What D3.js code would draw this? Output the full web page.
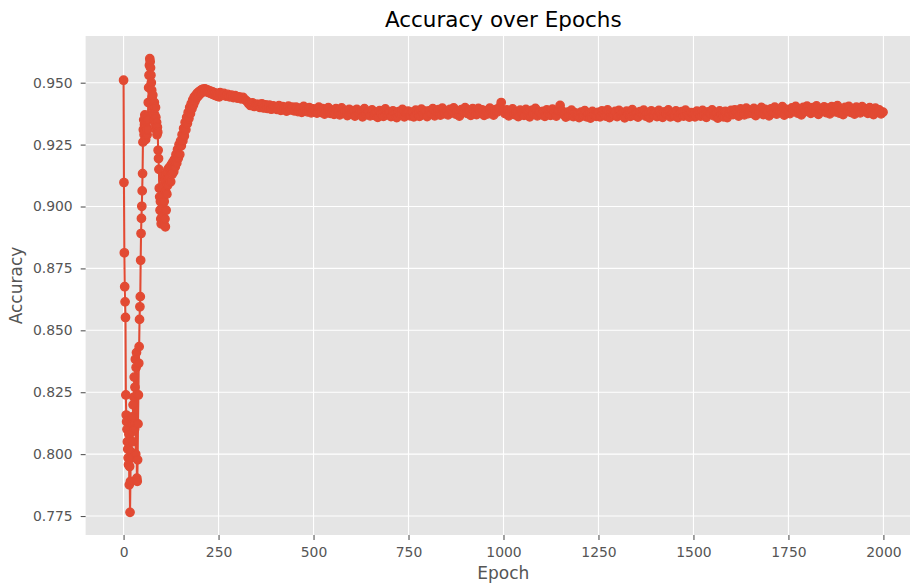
<!DOCTYPE html>
<html><head><meta charset="utf-8">
<script src="https://cdn.jsdelivr.net/npm/d3@7"></script>
<style>body{margin:0;background:#fff}svg{display:block}</style>
</head><body><svg id="c" width="910" height="583"></svg>
<script>
// epochs 0..119 (every epoch)
const accEarly = [
.9510,.9097,.8813,.8676,.8615,.8552,.8239,.8158,.8131,.8100,
.8050,.8020,.7985,.7957,.8080,.7876,.7950,.7765,.7890,.8010,
.8126,.7985,.8090,.8150,.8050,.8199,.8120,.8230,.8311,.8100,
.8270,.8383,.8000,.8350,.8410,.7903,.7890,.7977,.8122,.8239,
.8367,.8434,.8544,.8595,.8636,.8783,.8891,.8952,.9001,.9063,
.9133,.9260,.9310,.9350,.9290,.9330,.9370,.9300,.9270,.9340,
.9320,.9360,.9290,.9310,.9350,.9420,.9480,.9530,.9570,.9597,
.9585,.9560,.9530,.9500,.9470,.9440,.9420,.9450,.9400,.9380,
.9350,.9420,.9370,.9330,.9400,.9360,.9310,.9340,.9290,.9320,
.9300,.9227,.9194,.9150,.9074,.9039,.8985,.9020,.8950,.8930,
.8990,.9040,.8960,.9080,.8940,.9110,.8930,.9020,.9126,.8950,
.8918,.9060,.8985,.9130,.9050,.9140,.9086,.9150,.9110,.9155
];
// epochs 120..252 (every 2nd epoch)
const accRise = [
.9115,.9160,.9100,.9170,.9130,.9180,.9140,.9190,
.9160,.9210,.9175,.9230,.9195,.9250,.9210,.9265,
.9245,.9290,.9265,.9315,.9285,.9340,.9310,.9360,.9335,.9380,
.9355,.9400,.9375,.9415,.9395,.9430,.9410,.9442,.9425,.9450,
.9438,.9458,.9445,.9463,.9452,.9468,.9458,.9472,.9462,.9474,
.9466,.9475,.9465,.9472,.9463,.9470,.9460,.9467,.9458,.9465,
.9455,.9463,.9452,.9460,.9450,.9458,.9447,.9455,.9445,.9452,.9443
];
// epochs 254..1999 (every 5th epoch)
const accLate = [
.9460,.9450,.9457,.9446,.9453,.9443,.9450,.9440,.9448,.9438,
.9443,.9435,.9441,.9432,.9426,.9416,.9408,.9419,.9404,.9413,
.9413,.9400,.9415,.9398,.9410,.9396,.9409,.9393,.9406,.9397,
.9392,.9407,.9388,.9403,.9395,.9385,.9405,.9390,.9401,.9386,
.9401,.9383,.9397,.9380,.9404,.9388,.9382,.9399,.9378,.9394,
.9391,.9377,.9401,.9380,.9395,.9373,.9390,.9399,.9376,.9389,
.9372,.9395,.9383,.9370,.9398,.9377,.9387,.9367,.9392,.9376,
.9387,.9365,.9392,.9374,.9384,.9362,.9395,.9371,.9381,.9366,
.9390,.9368,.9380,.9360,.9387,.9375,.9364,.9394,.9371,.9379,
.9363,.9386,.9374,.9359,.9383,.9371,.9392,.9362,.9378,.9385,
.9366,.9381,.9362,.9389,.9376,.9364,.9393,.9372,.9385,.9363,
.9386,.9373,.9395,.9366,.9381,.9391,.9369,.9397,.9375,.9384,
.9370,.9392,.9379,.9398,.9373,.9386,.9365,.9391,.9381,.9399,
.9376,.9388,.9368,.9395,.9383,.9371,.9396,.9378,.9390,.9368,
.9386,.9374,.9397,.9379,.9369,.9391,.9382,.9400,.9420,.9388,
.9375,.9390,.9366,.9386,.9394,.9371,.9382,.9363,.9389,.9377,
.9368,.9392,.9379,.9362,.9388,.9373,.9396,.9366,.9383,.9371,
.9384,.9364,.9390,.9376,.9368,.9393,.9379,.9365,.9387,.9408,
.9386,.9371,.9361,.9381,.9367,.9389,.9363,.9378,.9370,.9359,
.9381,.9366,.9387,.9362,.9376,.9357,.9384,.9370,.9364,.9380,
.9362,.9386,.9373,.9365,.9390,.9359,.9378,.9368,.9384,.9363,
.9388,.9369,.9379,.9358,.9385,.9373,.9364,.9391,.9368,.9377,
.9361,.9383,.9373,.9389,.9365,.9376,.9358,.9386,.9370,.9380,
.9363,.9388,.9370,.9360,.9382,.9374,.9390,.9362,.9378,.9366,
.9386,.9359,.9376,.9383,.9365,.9389,.9371,.9361,.9379,.9373,
.9362,.9385,.9375,.9365,.9388,.9370,.9360,.9382,.9376,.9390,
.9366,.9378,.9357,.9386,.9373,.9362,.9384,.9359,.9376,.9388,
.9371,.9390,.9378,.9365,.9394,.9380,.9370,.9397,.9375,.9387,
.9376,.9396,.9367,.9390,.9381,.9400,.9371,.9392,.9383,.9366,
.9394,.9378,.9401,.9373,.9389,.9383,.9403,.9369,.9392,.9384,
.9375,.9398,.9386,.9404,.9377,.9392,.9370,.9400,.9383,.9405,
.9389,.9376,.9399,.9384,.9406,.9372,.9393,.9386,.9402,.9379,
.9397,.9374,.9403,.9387,.9382,.9407,.9377,.9392,.9371,.9400,
.9385,.9404,.9380,.9395,.9373,.9401,.9389,.9378,.9403,.9384,
.9394,.9376,.9399,.9387,.9371,.9397,.9382,.9390,.9374,.9381
];
const xTicks = [0,250,500,750,1000,1250,1500,1750,2000];
const yTicks = [0.775,0.800,0.825,0.850,0.875,0.900,0.925,0.950];
const titleText = "Accuracy over Epochs";
const xLabelText = "Epoch";
const yLabelText = "Accuracy";

const data = [
  ...accEarly.map((v,i)=>({e:i, v})),
  ...accRise.map((v,i)=>({e:120+2*i, v})),
  ...accLate.map((v,i)=>({e:254+5*i, v}))
];

const L=85.6, R=921, T=36, B=535;
const color="#E24A33", tc="#555555", font="DejaVu Sans, sans-serif";
function padded(ext){const d=(ext[1]-ext[0])*0.05;return [ext[0]-d, ext[1]+d];}
const x=d3.scaleLinear().domain(padded(d3.extent(data,d=>d.e))).range([L,R]);
const y=d3.scaleLinear().domain(padded(d3.extent(data,d=>d.v))).range([B,T]);

const svg=d3.select("#c");
svg.append("rect").attr("x",L).attr("y",T).attr("width",R-L).attr("height",B-T).attr("fill","#E5E5E5");

// grid
const g=svg.append("g");
g.selectAll(".gx").data(xTicks).join("line")
 .attr("x1",d=>x(d)).attr("x2",d=>x(d)).attr("y1",T).attr("y2",B)
 .attr("stroke","#fff").attr("stroke-width",1.1);
g.selectAll(".gy").data(yTicks).join("line")
 .attr("y1",d=>y(d)).attr("y2",d=>y(d)).attr("x1",L).attr("x2",R)
 .attr("stroke","#fff").attr("stroke-width",1.1);

// axes
const xa=d3.axisBottom(x).tickValues(xTicks).tickFormat(d3.format("d")).tickSize(4.9).tickPadding(7);
const ya=d3.axisLeft(y).tickValues(yTicks).tickFormat(d3.format(".3f")).tickSize(4.9).tickPadding(8);
const gx=svg.append("g").attr("transform",`translate(0,${B})`).call(xa);
const gy=svg.append("g").attr("transform",`translate(${L},0)`).call(ya);
[gx,gy].forEach(a=>{
  a.select(".domain").remove();
  a.selectAll(".tick line").attr("stroke",tc).attr("stroke-width",1.1);
  a.selectAll(".tick text").attr("fill",tc).style("font-family",font).style("font-size","13.9px");
});

// line + markers
svg.append("path").datum(data)
 .attr("d",d3.line().x(d=>x(d.e)).y(d=>y(d.v)))
 .attr("fill","none").attr("stroke",color).attr("stroke-width",2.08).attr("stroke-linejoin","round");
svg.append("g").selectAll("circle").data(data).join("circle")
 .attr("cx",d=>x(d.e)).attr("cy",d=>y(d.v)).attr("r",4.17)
 .attr("fill",color).attr("stroke",color).attr("stroke-width",1.39);

// labels
const cx=(L+R)/2;
svg.append("text").attr("x",cx).attr("y",27.3).attr("text-anchor","middle")
 .style("font-family",font).style("font-size","21.5px").attr("fill","#000").text(titleText);
svg.append("text").attr("x",cx).attr("y",579).attr("text-anchor","middle")
 .style("font-family",font).style("font-size","17px").attr("fill",tc).text(xLabelText);
svg.append("text").attr("transform",`translate(21.5,${(T+B)/2}) rotate(-90)`).attr("text-anchor","middle")
 .style("font-family",font).style("font-size","17px").attr("fill",tc).text(yLabelText);
</script></body></html>
